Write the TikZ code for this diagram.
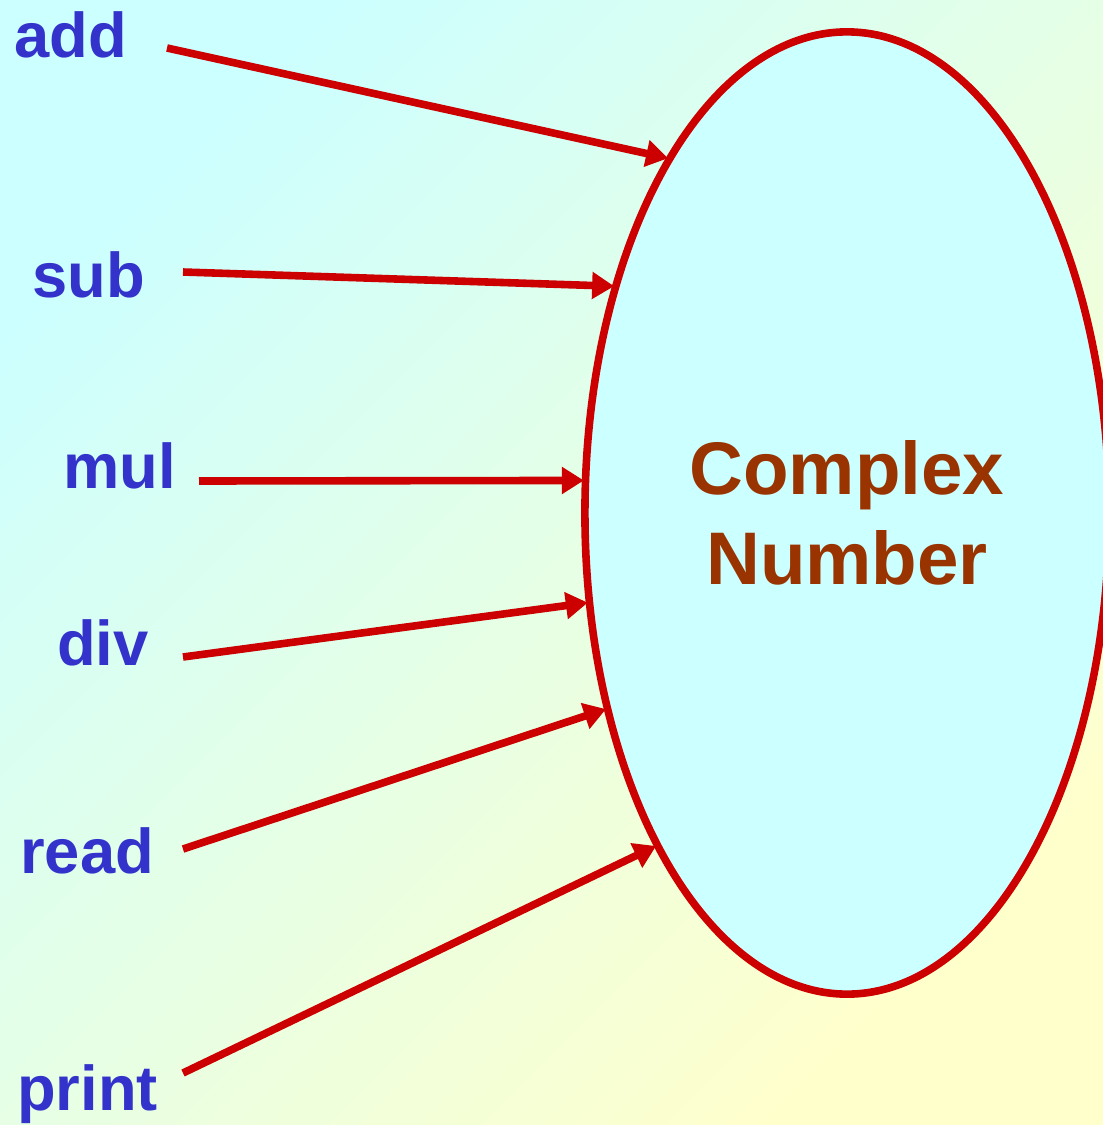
\documentclass[tikz,border=0pt]{standalone}
\usepackage{fontspec}
\setmainfont{Liberation Sans}
\usepackage{tikz}
\usetikzlibrary{arrows.meta, positioning, shapes.geometric}

\definecolor{bgcyan}{HTML}{CCFFFF}
\definecolor{bgyellow}{HTML}{FFFFCC}
\definecolor{opblue}{HTML}{3333CC}
\definecolor{linered}{HTML}{CC0000}
\definecolor{cnbrown}{HTML}{993300}

\begin{document}
\begin{tikzpicture}[
    x=0.025cm, y=-0.025cm,
    op/.style={anchor=base west, inner sep=0pt, text=opblue, font=\fontsize{45}{54}\selectfont\bfseries},
    adt/.style={ellipse, draw=linered, line width=5.4pt, fill=bgcyan, minimum width=13.1cm, minimum height=24.05cm,
        align=center, text=cnbrown, font=\fontsize{53}{64}\selectfont\bfseries},
    arrow/.style={-{Triangle[length=0.55cm, width=0.65cm]}, line width=5.4pt, draw=linered, shorten >=-1.5pt}
]

% --- Fundo ---
\shade[top color=bgcyan, bottom color=bgyellow, shading angle=45] (0,0) rectangle (1103,1125);
\useasboundingbox (0,0) rectangle (1103,1125);

% --- Tipo abstrato ---
\node[adt] (cn) at (847,513) {Complex\\Number};

% --- Operacoes (esquerda) ---
\node[op] (add) at (14,57) {add};
\node[op] (sub) at (32,297) {sub};
\node[op] (mul) at (63,488) {mul};
\node[op] (div) at (57,665) {div};
\node[op] (read) at (20,873) {read};
\node[op] (print) at (17,1110) {print};

% pontos de saida das setas
\coordinate (add-t) at (167,48);
\coordinate (sub-t) at (183,272);
\coordinate (mul-t) at (199,481);
\coordinate (div-t) at (183,657);
\coordinate (read-t) at (183,849);
\coordinate (print-t) at (183,1073);

% === SETAS ===
\draw[arrow] (add-t) -- (cn.117.7);
\draw[arrow] (sub-t) -- (cn.136.5);
\draw[arrow] (mul-t) -- (cn.173.1);
\draw[arrow] (div-t) -- (cn.199.4);
\draw[arrow] (read-t) -- (cn.219.4);
\draw[arrow] (print-t) -- (cn.240.9);

\end{tikzpicture}
\end{document}
